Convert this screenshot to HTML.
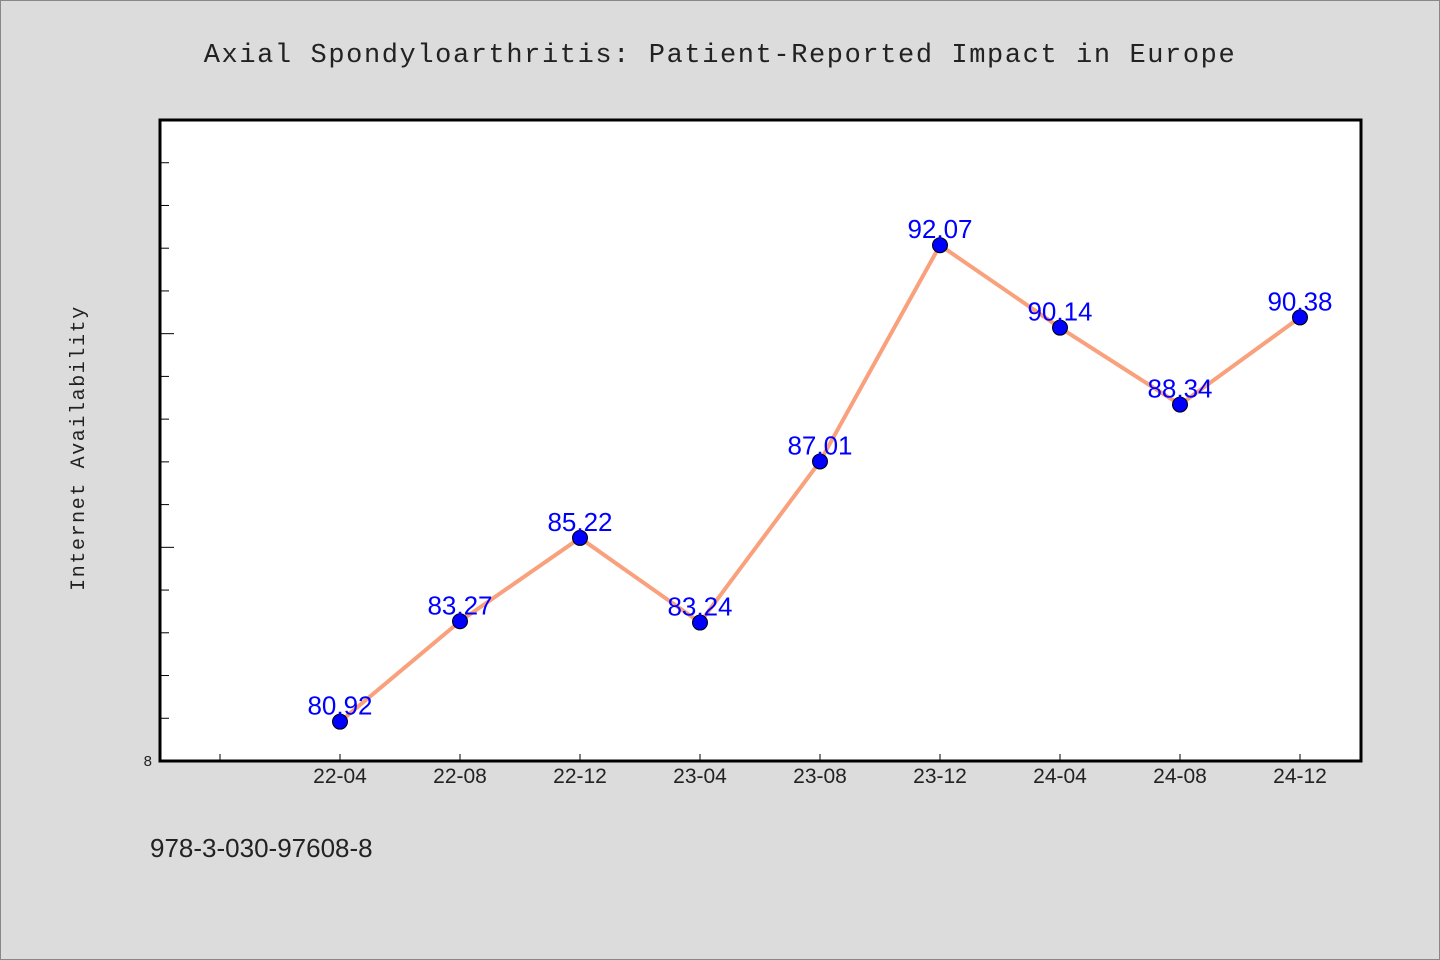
<!DOCTYPE html>
<html><head><meta charset="utf-8"><style>
html,body{margin:0;padding:0;background:#dcdcdc;}
svg{display:block;}
</style></head><body>
<svg width="1440" height="960" xmlns="http://www.w3.org/2000/svg" id="chart">
<rect x="0.5" y="0.5" width="1439" height="959" fill="#dcdcdc" stroke="#888"/>
<text x="720" y="62" text-anchor="middle" font-family="'Liberation Mono',monospace" font-size="27" letter-spacing="1.6" fill="#222">Axial Spondyloarthritis: Patient-Reported Impact in Europe</text>
<rect x="160" y="120" width="1201" height="641" fill="#fff" stroke="#000" stroke-width="3"/>
<text transform="translate(84,448) rotate(-90)" text-anchor="middle" font-family="'Liberation Mono',monospace" font-size="20" letter-spacing="1.6" fill="#222">Internet Availability</text>
<text x="150" y="857" font-family="'Liberation Sans',sans-serif" font-size="26" fill="#222">978-3-030-97608-8</text>
<g id="yticks"></g><g id="xticks"></g><g id="series"></g>
</svg>
<script>
const categories=["22-04","22-08","22-12","23-04","23-08","23-12","24-04","24-08","24-12"];
const values=[80.92,83.27,85.22,83.24,87.01,92.07,90.14,88.34,90.38];
const yMin=80, yMax=95;
const ns="http://www.w3.org/2000/svg";
const L=160,R=1361,T=120,B=761;
function y(v){return B-(v-yMin)/(yMax-yMin)*(B-T);}
function x(i){return 340+i*120;}
function mk(t,a,p){const e=document.createElementNS(ns,t);for(const k in a)e.setAttribute(k,a[k]);p.appendChild(e);return e;}
const yt=document.getElementById('yticks');
for(let v=yMin+1;v<yMax;v++){
 const l=mk('line',{x1:L,x2:L+(v%5===0?14:9),y1:y(v),y2:y(v),stroke:'#000','stroke-width':1},yt);
 
 
}
const y0=mk('text',{x:152,y:766,'text-anchor':'end','font-family':"'Liberation Sans',sans-serif",'font-size':15,fill:'#222'},yt);
y0.textContent=String(yMin).slice(0,1);


const xt=document.getElementById('xticks');
for(let i=-1;i<categories.length;i++){
 const l=mk('line',{x1:x(i),x2:x(i),y1:B,y2:B-7,stroke:'#000','stroke-width':1},xt);
 
 
 if(i>=0){
  const t=mk('text',{x:x(i),y:783,'text-anchor':'middle','font-family':"'Liberation Sans',sans-serif",'font-size':21,fill:'#222'},xt);
  t.textContent=categories[i];
  
  
 }
}
const s=document.getElementById('series');
const pl=mk('polyline',{points:values.map((v,i)=>x(i)+','+y(v)).join(' '),fill:'none',stroke:'#f9a07c','stroke-width':4,'stroke-linejoin':'round'},s);


values.forEach((v,i)=>{
 const c=mk('circle',{cx:x(i),cy:y(v),r:7.5,fill:'#0000ff',stroke:'#000','stroke-width':1},s);
 
 
 const t=mk('text',{x:x(i),y:y(v)-7,'text-anchor':'middle','font-family':"'Liberation Sans',sans-serif",'font-size':26,fill:'#0000ff'},s);
 t.textContent=v.toFixed(2).replace('.',',');
 
 
});
</script>
</body></html>
